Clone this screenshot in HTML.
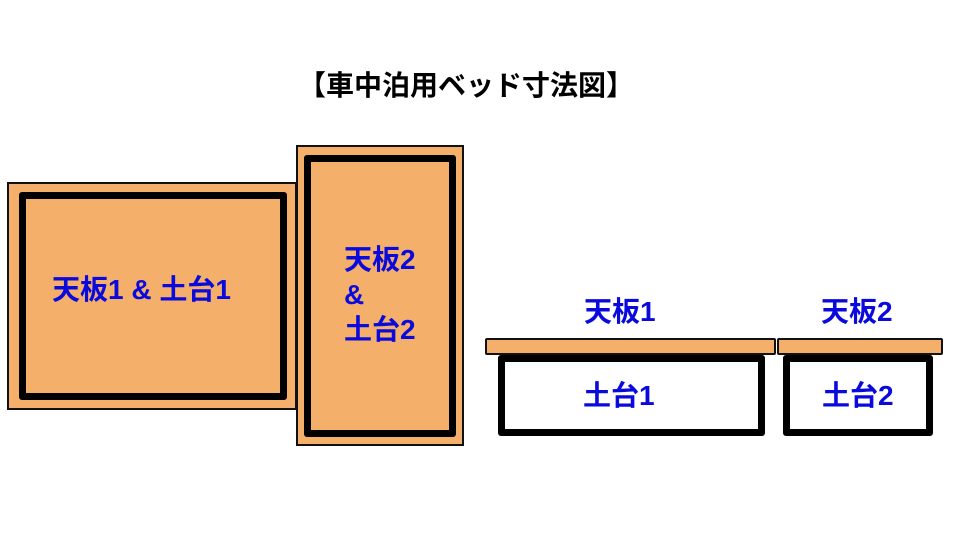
<!DOCTYPE html>
<html><head><meta charset="utf-8"><style>
body{margin:0;width:960px;height:540px;background:#fff;position:relative;overflow:hidden;font-family:"Liberation Sans","Noto Sans CJK JP",sans-serif;}
div{position:absolute;box-sizing:border-box;}
.o{background:#f4b06a;border:2px solid #111;}
.i{border:7px solid #000;border-radius:3px;}
.t{color:#0a0adc;font-weight:bold;font-size:28px;white-space:nowrap;line-height:1;}
</style></head><body>
<div style="left:298px;top:70px;font-weight:bold;font-size:28px;line-height:32px;color:#000;white-space:nowrap">【車中泊用ベッド寸法図】</div>

<div class="o" style="left:7px;top:182px;width:290px;height:228px"></div>
<div class="i" style="left:19px;top:192px;width:268px;height:208px"></div>
<div class="t" style="left:52px;top:276px">天板1 &amp; 土台1</div>

<div class="o" style="left:296px;top:145px;width:168px;height:301px"></div>
<div class="i" style="left:304px;top:155px;width:152px;height:282px"></div>
<div class="t" style="left:344px;top:242px;line-height:35px">天板2<br>&amp;<br>土台2</div>

<div class="t" style="left:584px;top:298px">天板1</div>
<div class="t" style="left:821px;top:298px">天板2</div>
<div class="o" style="left:485px;top:338px;width:291px;height:17px;border-radius:2px"></div>
<div class="o" style="left:777px;top:338px;width:166px;height:17px;border-radius:2px"></div>
<div class="i" style="left:498px;top:355px;width:267px;height:81px;background:#fff"></div>
<div class="i" style="left:783px;top:355px;width:150px;height:81px;background:#fff"></div>
<div class="t" style="left:583px;top:382px">土台1</div>
<div class="t" style="left:822px;top:382px">土台2</div>
</body></html>
